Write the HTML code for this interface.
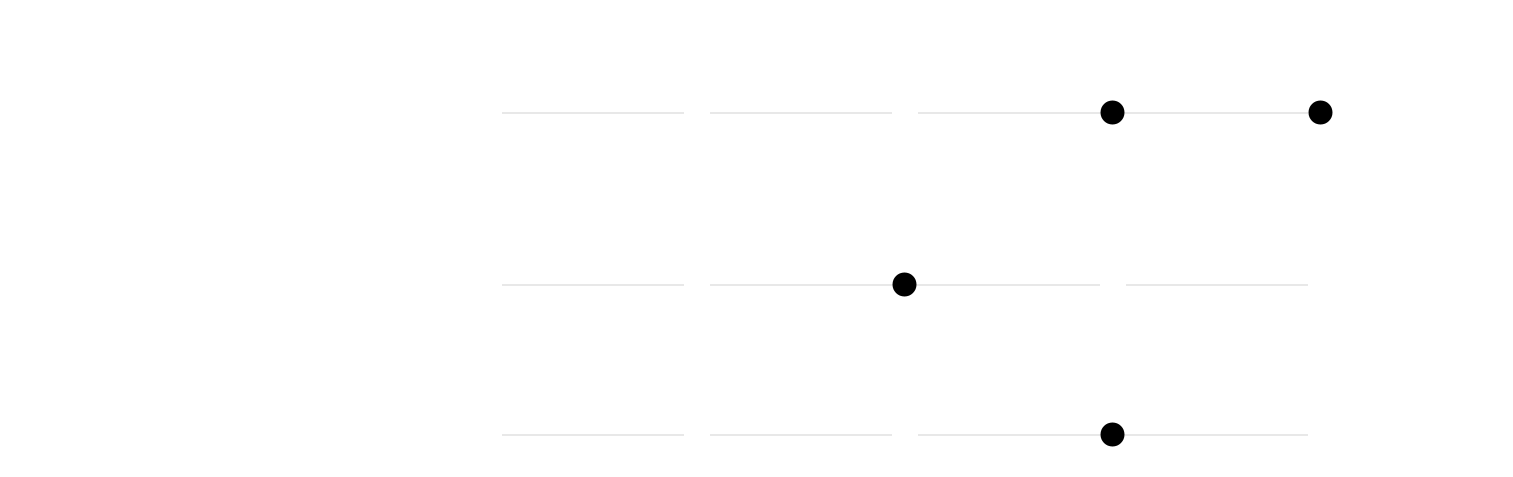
<!DOCTYPE html>
<html><head><meta charset="utf-8"><style>html,body{margin:0;padding:0;background:#fff;width:1513px;height:477px;overflow:hidden}</style></head>
<body>
<svg width="1513" height="477" xmlns="http://www.w3.org/2000/svg">
<g stroke="#d9d9d9" stroke-width="1.2">
<line x1="502" y1="113" x2="684" y2="113"/>
<line x1="710" y1="113" x2="892" y2="113"/>
<line x1="918" y1="113" x2="1100" y2="113"/>
<line x1="1100" y1="113" x2="1308" y2="113"/>
<line x1="502" y1="285" x2="684" y2="285"/>
<line x1="710" y1="285" x2="892" y2="285"/>
<line x1="892" y1="285" x2="1100" y2="285"/>
<line x1="1126" y1="285" x2="1308" y2="285"/>
<line x1="502" y1="435" x2="684" y2="435"/>
<line x1="710" y1="435" x2="892" y2="435"/>
<line x1="918" y1="435" x2="1100" y2="435"/>
<line x1="1100" y1="435" x2="1308" y2="435"/>
</g>
<g fill="#000">
<circle cx="1112.5" cy="112.5" r="12"/>
<circle cx="1320.5" cy="112.5" r="12"/>
<circle cx="904.5" cy="284.5" r="12"/>
<circle cx="1112.5" cy="434.5" r="12"/>
</g>
</svg>
</body></html>
